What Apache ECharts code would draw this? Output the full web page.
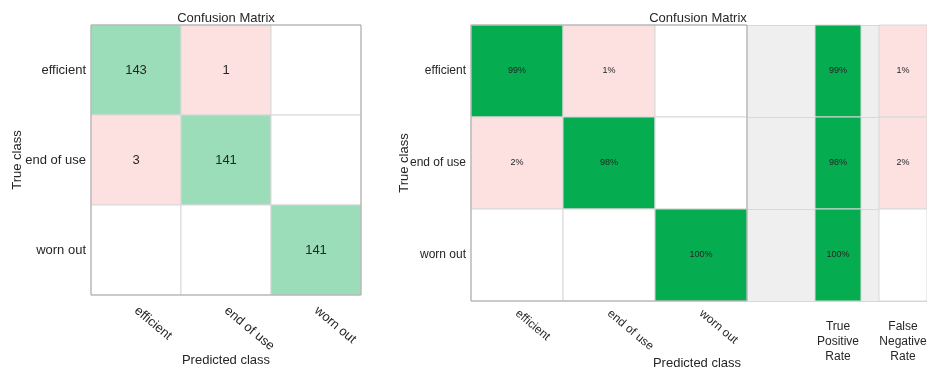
<!DOCTYPE html>
<html>
<head>
<meta charset="utf-8">
<script src="https://cdn.jsdelivr.net/npm/echarts@6/dist/echarts.min.js"></script>
<style>
  html, body { margin: 0; padding: 0; background: #fff; }
  #chart { width: 927px; height: 369px; }
</style>
</head>
<body>
<div id="chart"></div>
<script>
// class names
const classes = ['efficient', 'end of use', 'worn out'];
// left panel: counts [true row][predicted col]
const counts = [
  [143, 1, 0],
  [3, 141, 0],
  [0, 0, 141]
];
// right panel: row-normalised percentages
const percents = [
  [99, 1, 0],
  [2, 98, 0],
  [0, 0, 100]
];
const truePositiveRate = [99, 98, 100];
const falseNegativeRate = [1, 2, 0];

const FONT = 'Liberation Sans, Arial, sans-serif';
const TXT = '#262626';
const LIGHT_GREEN = '#9bddb9';
const DARK_GREEN = '#06ac50';
const PINK = '#fde1e1';
const GRID_LINE = '#d8d8d8';

function toCells(matrix) {
  const out = [];
  matrix.forEach((row, r) => row.forEach((v, c) => out.push([c, r, v])));
  return out;
}

function cellRenderer(colorFn, fmt, fontSize) {
  return function (params, api) {
    const x = api.value(0), y = api.value(1), v = api.value(2);
    const c = api.coord([x, y]);
    const s = api.size([1, 1]);
    const children = [{
      type: 'rect',
      shape: { x: c[0] - s[0] / 2, y: c[1] - s[1] / 2, width: s[0], height: s[1] },
      style: { fill: colorFn(x, y, v), stroke: GRID_LINE, lineWidth: 1 }
    }];
    if (v > 0) {
      children.push({
        type: 'text',
        style: {
          text: fmt(v), x: c[0], y: c[1], align: 'center', verticalAlign: 'middle',
          fontSize: fontSize, fontFamily: FONT, fill: TXT
        }
      });
    }
    return { type: 'group', children: children };
  };
}

// outer frame of a 3x3 grid, built from the axis scales
function frameRenderer(params, api) {
  const n = classes.length;
  const a = api.coord([0, 0]);
  const b = api.coord([n - 1, n - 1]);
  const s = api.size([1, 1]);
  return {
    type: 'rect',
    shape: { x: a[0] - s[0] / 2, y: a[1] - s[1] / 2, width: b[0] - a[0] + s[0], height: b[1] - a[1] + s[1] },
    style: { fill: 'none', stroke: '#a9a9a9', lineWidth: 1 }
  };
}

const matrixColor = (light) => (x, y, v) => {
  if (v === 0) return '#ffffff';
  if (x === y) return light ? LIGHT_GREEN : DARK_GREEN;
  return PINK;
};

const catX = (gridIndex, name, margin, fontSize) => ({
  type: 'category', gridIndex: gridIndex, data: classes,
  axisTick: { show: false }, axisLine: { show: false }, splitLine: { show: false },
  axisLabel: { rotate: -40, margin: margin, padding: [16, 0, 0, 0], fontSize: fontSize, fontFamily: FONT, color: TXT, interval: 0 },
  name: name, nameLocation: 'middle', nameGap: 59, nameMoveOverlap: false,
  nameTextStyle: { fontSize: 13, fontFamily: FONT, color: TXT }
});

const catY = (gridIndex, nameGap, fontSize) => ({
  type: 'category', gridIndex: gridIndex, data: classes, inverse: true,
  axisTick: { show: false }, axisLine: { show: false }, splitLine: { show: false },
  axisLabel: { margin: 5, fontSize: fontSize, fontFamily: FONT, color: TXT },
  name: 'True class', nameLocation: 'middle', nameGap: nameGap, nameRotate: 90, nameMoveOverlap: false,
  nameTextStyle: { fontSize: 13, fontFamily: FONT, color: TXT }
});

const rateX = (gridIndex, label) => ({
  type: 'category', gridIndex: gridIndex, data: [label],
  axisTick: { show: false }, axisLine: { show: false }, splitLine: { show: false },
  axisLabel: { margin: 18, fontSize: 12, lineHeight: 15, fontFamily: FONT, color: TXT }
});

const hiddenY = (gridIndex, split) => ({
  type: 'category', gridIndex: gridIndex, data: classes, inverse: true,
  axisTick: { show: false }, axisLine: { show: false }, axisLabel: { show: false },
  splitLine: { show: split, lineStyle: { color: GRID_LINE } }
});

const chart = echarts.init(document.getElementById('chart'));

const titleStyle = { fontSize: 13, fontWeight: 'normal', fontFamily: FONT, color: TXT };

chart.setOption({
  animation: false,
  backgroundColor: '#ffffff',
  title: [
    { text: 'Confusion Matrix', left: 221, top: 7, textAlign: 'center', textStyle: titleStyle },
    { text: 'Confusion Matrix', left: 693, top: 7, textAlign: 'center', textStyle: titleStyle },
    { text: 'Predicted class', left: 692, top: 352, textAlign: 'center', textStyle: titleStyle }
  ],
  grid: [
    { left: 91, top: 25, width: 270, height: 270, outerBoundsMode: 'none' },
    { left: 471, top: 25, width: 276, height: 276, outerBoundsMode: 'none' },
    { left: 747, top: 25, width: 180, height: 276, outerBoundsMode: 'none',
      show: true, backgroundColor: '#efefef', borderWidth: 0 },
    { left: 815, top: 25, width: 46, height: 276, outerBoundsMode: 'none' },
    { left: 879, top: 25, width: 48, height: 276, outerBoundsMode: 'none' }
  ],
  xAxis: [
    catX(0, 'Predicted class', 14, 13),
    catX(1, '', 11, 12),
    { type: 'value', gridIndex: 2, show: false, min: 0, max: 1 },
    rateX(3, 'True\nPositive\nRate'),
    rateX(4, 'False\nNegative\nRate')
  ],
  yAxis: [
    catY(0, 67, 13),
    catY(1, 60, 12),
    hiddenY(2, true),
    hiddenY(3, false),
    hiddenY(4, false)
  ],
  series: [
    {
      type: 'custom', xAxisIndex: 0, yAxisIndex: 0,
      data: toCells(counts),
      renderItem: cellRenderer(matrixColor(true), (v) => String(v), 13)
    },
    {
      type: 'custom', xAxisIndex: 0, yAxisIndex: 0, z: 5,
      data: [[0, 0]], renderItem: frameRenderer
    },
    {
      type: 'custom', xAxisIndex: 1, yAxisIndex: 1,
      data: toCells(percents),
      renderItem: cellRenderer(matrixColor(false), (v) => v + '%', 9)
    },
    {
      type: 'custom', xAxisIndex: 1, yAxisIndex: 1, z: 5,
      data: [[0, 0]], renderItem: frameRenderer
    },
    {
      type: 'custom', xAxisIndex: 3, yAxisIndex: 3,
      data: truePositiveRate.map((v, i) => [0, i, v]),
      renderItem: cellRenderer(() => DARK_GREEN, (v) => v + '%', 9)
    },
    {
      type: 'custom', xAxisIndex: 4, yAxisIndex: 4,
      data: falseNegativeRate.map((v, i) => [0, i, v]),
      renderItem: cellRenderer((x, y, v) => (v > 0 ? PINK : '#ffffff'), (v) => v + '%', 9)
    }
  ]
});
</script>
</body>
</html>
